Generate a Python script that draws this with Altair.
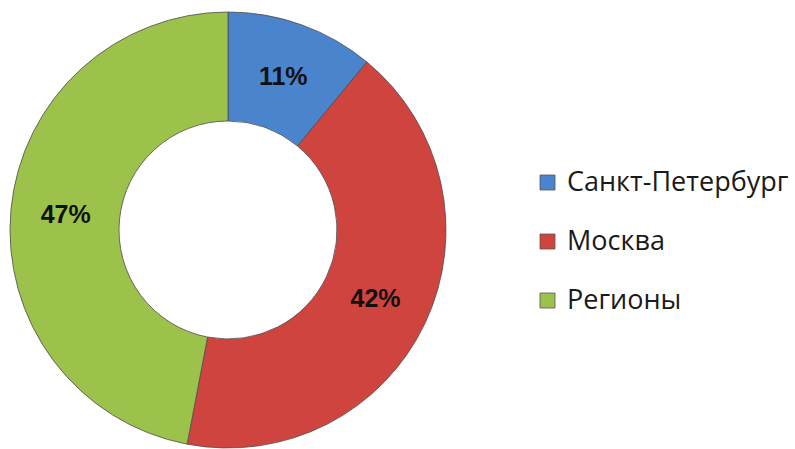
import altair as alt
import pandas as pd

categories = ["Санкт-Петербург", "Москва", "Регионы"]
values = [11, 42, 47]
labels = ["11%", "42%", "47%"]
colors = ["#4A84CC", "#D0443F", "#9CC24C"]

df = pd.DataFrame({"cat": categories, "value": values, "label": labels, "ord": [0, 1, 2]})

base = alt.Chart(df).encode(
    theta=alt.Theta("value:Q", stack=True),
    order=alt.Order("ord:Q"),
    x=alt.value(228),
    y=alt.value(230),
)

arcs = base.mark_arc(outerRadius=218, innerRadius=109, stroke="#4d4d4d", strokeWidth=0.8).encode(
    color=alt.Color(
        "cat:N",
        scale=alt.Scale(domain=categories, range=colors),
        sort=categories,
        legend=alt.Legend(
            title=None,
            orient="none",
            legendX=534,
            legendY=169,
            symbolType="square",
            symbolSize=225,
            symbolStrokeColor="#555555",
            symbolStrokeWidth=0.8,
            labelFont="Open Sans",
            labelFontSize=27,
            labelColor="#1a1a1a",
            labelOffset=6,
            rowPadding=31,
            labelLimit=400,
        ),
    )
)

texts = base.mark_text(radius=163, font="Liberation Sans", fontSize=25, fontWeight="bold", color="#111111").encode(
    text="label:N"
)

chart = alt.layer(arcs, texts).properties(
    width=795, height=449, autosize=alt.AutoSizeParams(type="none"), padding=0
).configure_view(stroke=None)

chart.save("out.html", embed_options={"renderer": "svg", "actions": False})
